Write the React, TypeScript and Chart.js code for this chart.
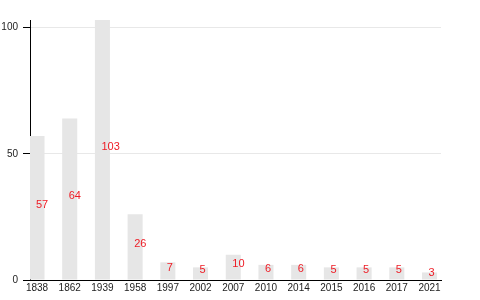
import React, { useEffect, useRef } from "react";
import { Chart, registerables } from "chart.js";

Chart.register(...registerables);

const categories = ["1838", "1862", "1939", "1958", "1997", "2002", "2007", "2010", "2014", "2015", "2016", "2017", "2021"];
const values = [57, 64, 103, 26, 7, 5, 10, 6, 6, 5, 5, 5, 3];
const yTicks = [0, 50, 100];
const yMax = 103;

const FONT = "'Liberation Sans', Arial, Helvetica, sans-serif";

const valueLabels = {
  id: "valueLabels",
  afterDatasetsDraw(chart: any) {
    const ctx = chart.ctx;
    const meta = chart.getDatasetMeta(0);
    ctx.save();
    ctx.font = `11px ${FONT}`;
    ctx.fillStyle = "#ee1c25";
    ctx.textAlign = "left";
    ctx.textBaseline = "middle";
    meta.data.forEach((bar: any, i: number) => {
      const { x, y, base } = bar.getProps(["x", "y", "base"], true);
      ctx.fillText(String(values[i]), x - 1, (y + base) / 2 - 3);
    });
    ctx.restore();
  },
};

export default function App() {
  const ref = useRef<HTMLCanvasElement>(null);
  useEffect(() => {
    if (!ref.current) return;
    const chart = new Chart(ref.current, {
      type: "bar",
      data: {
        labels: categories,
        datasets: [
          {
            data: values,
            backgroundColor: "#e6e6e6",
            borderWidth: 0,
            barPercentage: 0.46,
            categoryPercentage: 1,
          },
        ],
      },
      options: {
        animation: false,
        responsive: false,
        layout: { padding: { top: 20, right: 39, left: 0, bottom: 0 } },
        plugins: { legend: { display: false }, tooltip: { enabled: false } },
        scales: {
          x: {
            offset: false,
            grid: { display: false, drawTicks: false },
            border: { display: true, color: "#000", width: 1 },
            ticks: {
              autoSkip: false,
              maxRotation: 0,
              padding: 2,
              color: "#222",
              font: { family: FONT, size: 10 },
            },
            afterBuildTicks: (scale: any) => {
              scale._startValue = -0.214;
              scale._valueRange = 12.565;
            },
            afterFit: (scale: any) => {
              scale.height = 20;
            },
          },
          y: {
            min: 0,
            max: yMax,
            grid: { color: "#e8e8e8", tickColor: "#000", tickLength: 7, drawTicks: true },
            border: { display: true, color: "#000", width: 1 },
            ticks: {
              padding: 5,
              color: "#222",
              font: { family: FONT, size: 10 },
            },
            afterBuildTicks: (scale: any) => {
              scale.ticks = yTicks.map((v) => ({ value: v }));
            },
            afterFit: (scale: any) => {
              scale.width = 30;
            },
          },
        },
      },
      plugins: [valueLabels],
    });
    return () => chart.destroy();
  }, []);
  return (
    <div style={{ position: "fixed", left: 0, top: 0, width: 480, height: 300, background: "#fff" }}>
      <canvas ref={ref} width={480} height={300} />
    </div>
  );
}
